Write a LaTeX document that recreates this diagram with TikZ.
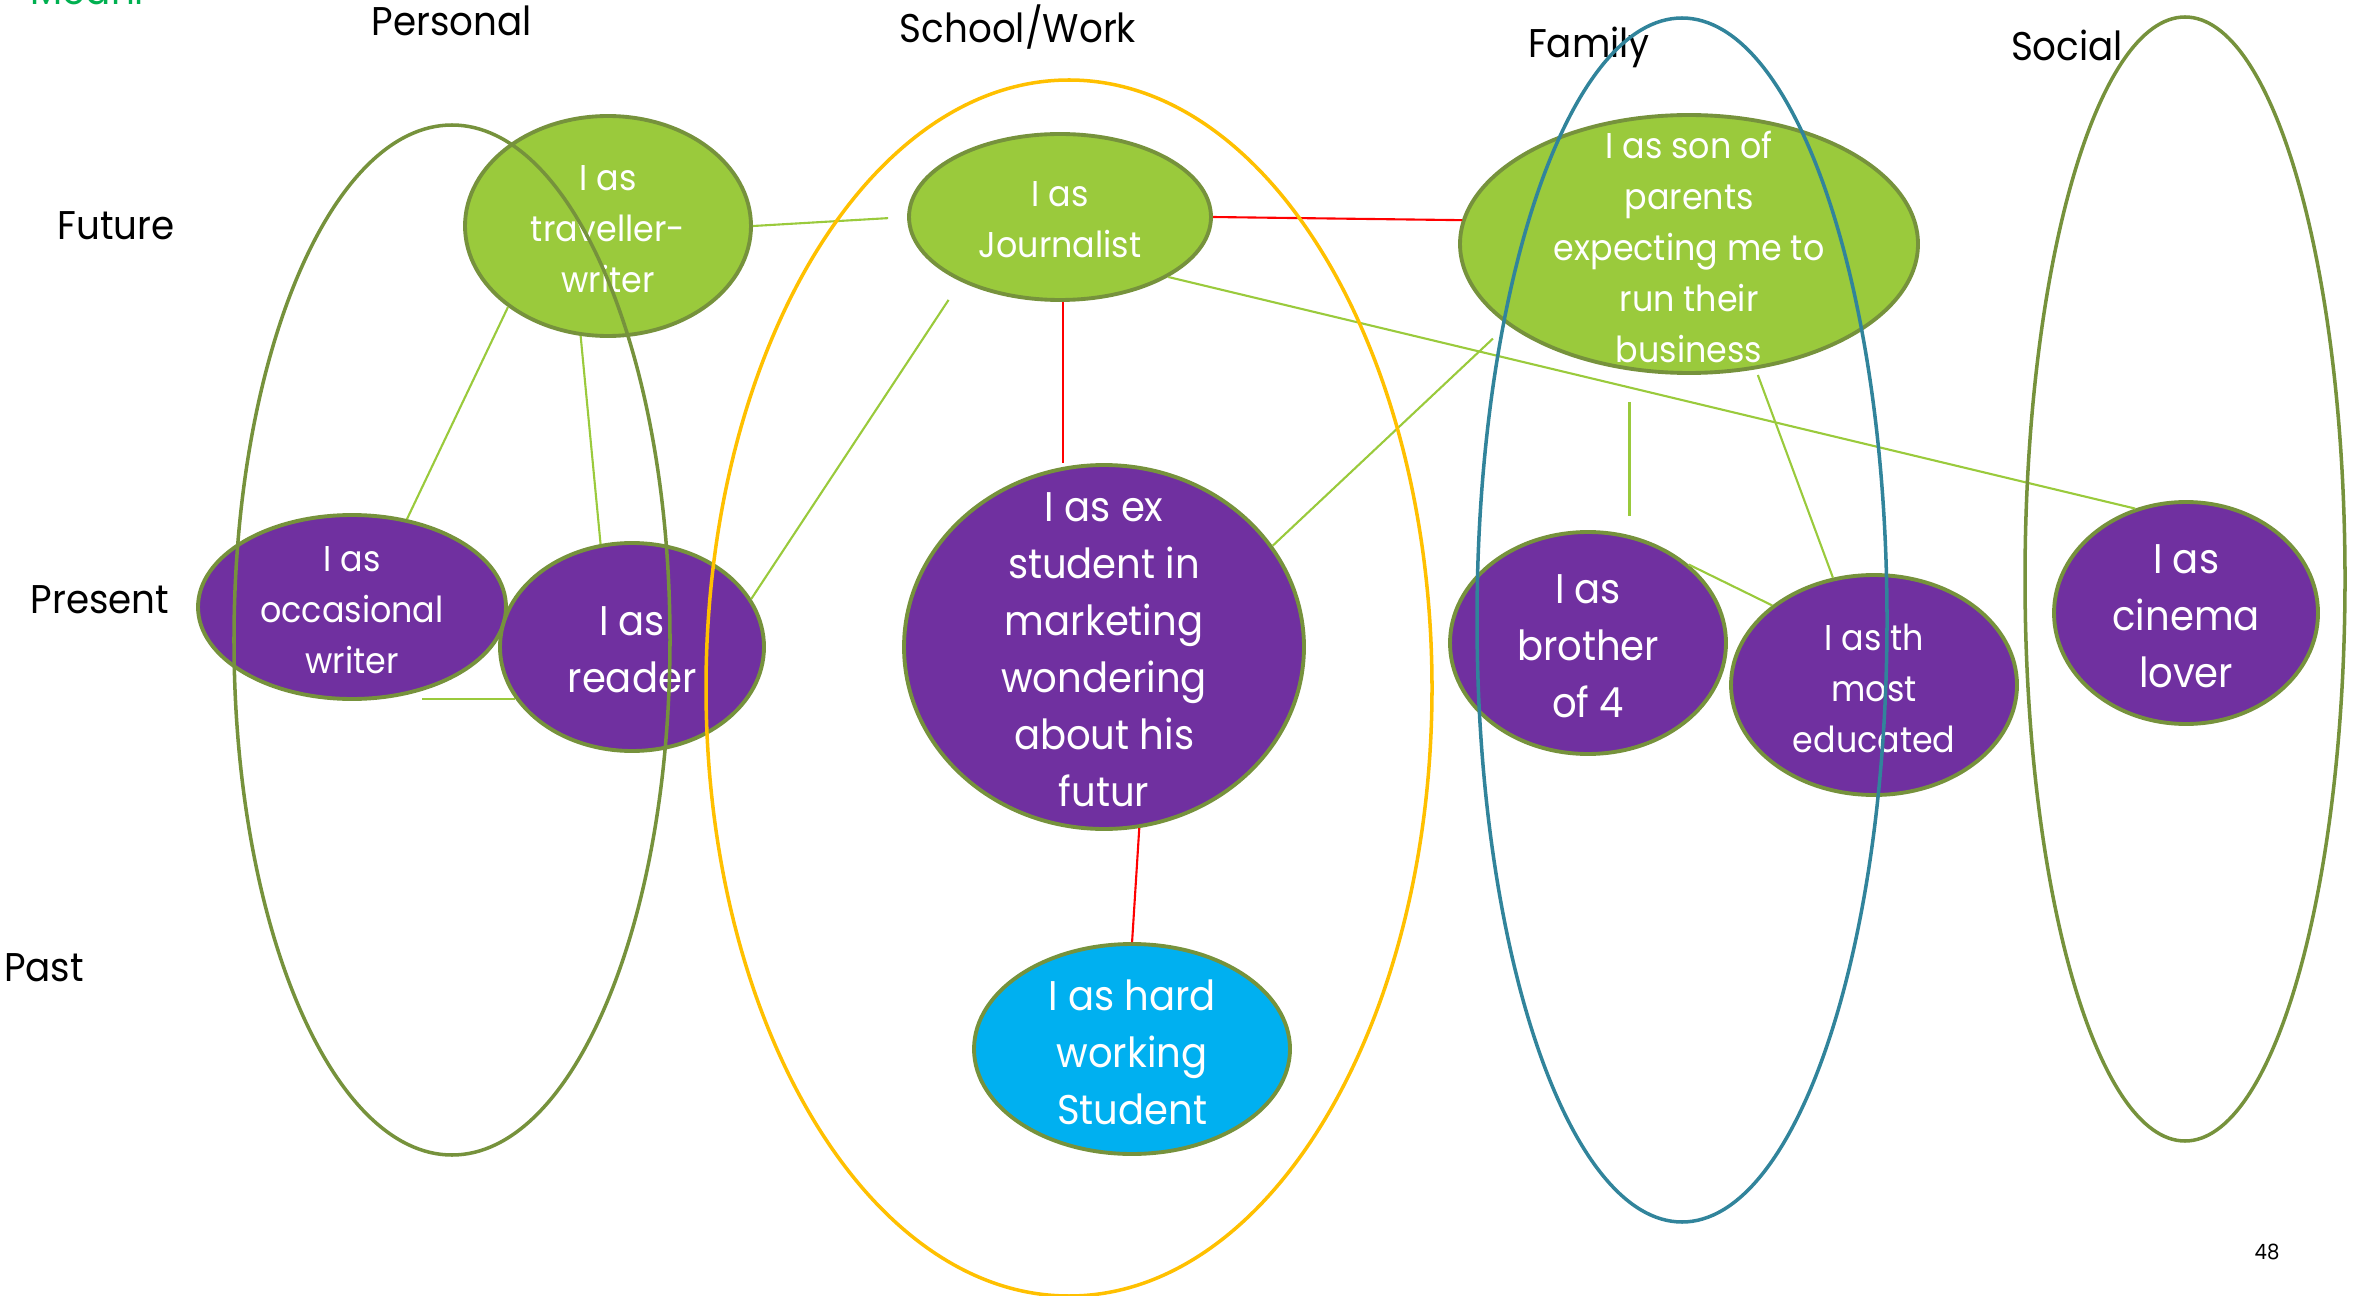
\documentclass[tikz,border=0pt]{standalone}
\usepackage{fontspec}
\setmainfont{Poppins}[FakeStretch=0.93]
\usetikzlibrary{shapes.geometric}
\definecolor{leafgreen}{RGB}{154,202,60}
\definecolor{olivedge}{RGB}{118,146,60}
\definecolor{plum}{RGB}{112,48,160}
\definecolor{sky}{RGB}{0,176,240}
\definecolor{amber}{RGB}{255,192,0}
\definecolor{famblue}{RGB}{49,132,155}
\definecolor{meangreen}{RGB}{0,176,80}
\begin{document}
\begin{tikzpicture}[scale=0.1]
\tikzstyle{every node}+=[inner sep=0pt]
\tikzstyle{idea}=[ellipse, draw=olivedge, line width=1.1pt]
\tikzstyle{futurebox}=[idea, fill=leafgreen]
\tikzstyle{presentbox}=[idea, fill=plum]
\tikzstyle{pastbox}=[idea, fill=sky]
\tikzstyle{smalltext}=[align=center, text=white, yshift=-0.03cm, font=\fontsize{10.2}{14.5}\selectfont]
\tikzstyle{bigtext}=[align=center, text=white, yshift=-0.03cm, font=\fontsize{11.8}{16.2}\selectfont]
\tikzstyle{heading}=[font=\fontsize{11.4}{14}\selectfont]
\tikzstyle{greenlink}=[leafgreen, line width=0.6pt]
\tikzstyle{redlink}=[red, line width=0.6pt]
\tikzstyle{lifearea}=[line width=1pt]
\useasboundingbox (0,0) rectangle (236.1,-129.6);
% headings
\node [heading, text=meangreen, anchor=base west] (meaning) at (3.0,-0.5) {Meani};
\node [heading] (hpersonal) at (45.2,-2.1) {Personal};
\node [heading] (hschool) at (101.8,-2.7) {School/Work};
\node [heading] (hfamily) at (158.9,-4.7) {Family};
\node [heading] (hsocial) at (206.7,-4.5) {Social};
\node [heading] (rfuture) at (11.6,-22.6) {Future};
\node [heading] (rpresent) at (10.0,-60.0) {Present};
\node [heading] (rpast) at (4.4,-96.8) {Past};
\node [font=\fontsize{6}{7}\selectfont] (pagenum) at (226.7,-125.2) {48};
% future
\node [futurebox, minimum width=2.86cm, minimum height=2.20cm, label={[smalltext]center:I as\\traveller-\\writer}] (trav) at (60.8,-22.6) {};
\node [futurebox, minimum width=3.02cm, minimum height=1.66cm, label={[smalltext]center:I as\\Journalist}] (jour) at (106.0,-21.7) {};
\node [futurebox, minimum width=4.58cm, minimum height=2.58cm, label={[smalltext]center:I as son of\\parents\\expecting me to\\run their\\business}] (son) at (168.9,-24.4) {};
% present
\node [presentbox, minimum width=3.08cm, minimum height=1.84cm, label={[smalltext]center:I as\\occasional\\writer}] (occ) at (35.2,-60.7) {};
\node [presentbox, minimum width=2.64cm, minimum height=2.08cm, label={[bigtext]center:I as\\reader}] (read) at (63.2,-64.7) {};
\node [presentbox, minimum width=4.00cm, minimum height=3.64cm, label={[bigtext]center:I as ex\\student in\\marketing\\wondering\\about his\\futur}] (exst) at (110.4,-64.7) {};
\node [presentbox, minimum width=2.76cm, minimum height=2.22cm, label={[bigtext]center:I as\\brother\\of 4}] (bro) at (158.8,-64.3) {};
\node [presentbox, minimum width=2.86cm, minimum height=2.20cm, label={[smalltext]center:I as th\\most\\educated}] (edu) at (187.4,-68.5) {};
\node [presentbox, minimum width=2.64cm, minimum height=2.22cm, label={[bigtext]center:I as\\cinema\\lover}] (cin) at (218.6,-61.3) {};
% past
\node [pastbox, minimum width=3.16cm, minimum height=2.10cm, label={[bigtext]center:I as hard\\working\\Student}] (hard) at (113.2,-104.9) {};
% links
\draw [greenlink, shorten >=0.19cm] (trav.east) -- (jour.west);
\draw [greenlink] (trav.-141) -- (occ.58);
\draw [greenlink] (trav.-104) -- (read.107);
\draw [greenlink] (read.204) -- (read.204 -| occ.-50);
\draw [greenlink, shorten >=0.22cm] (read.22) -- (jour.213);
\draw [redlink] (jour.east) -- (son.174);
\draw [redlink] (jour.-88) -- (jour.-88 |- exst.north);
\draw [greenlink] (jour.-29) -- (cin.116);
\draw [greenlink, shorten >=0.2cm] (exst.31) -- (son.204);
\draw [greenlink, shorten <=0.27cm, shorten >=0.19cm] (son.south -| bro.69) -- (bro.69);
\draw [greenlink, shorten <=0.06cm] (son.-62) -- (edu.111);
\draw [greenlink] (bro.38) -- (edu.142);
\draw [redlink] (exst.-79) -- (hard.north);
% areas
\draw [lifearea, olivedge] (45.2,-64.0) ellipse (21.8 and 51.5);
\draw [lifearea, amber] (106.9,-68.8) ellipse (36.3 and 60.8);
\draw [lifearea, famblue] (168.2,-62.0) ellipse (20.5 and 60.2);
\draw [lifearea, olivedge] (218.5,-57.9) ellipse (16.0 and 56.2);
\end{tikzpicture}
\end{document}
